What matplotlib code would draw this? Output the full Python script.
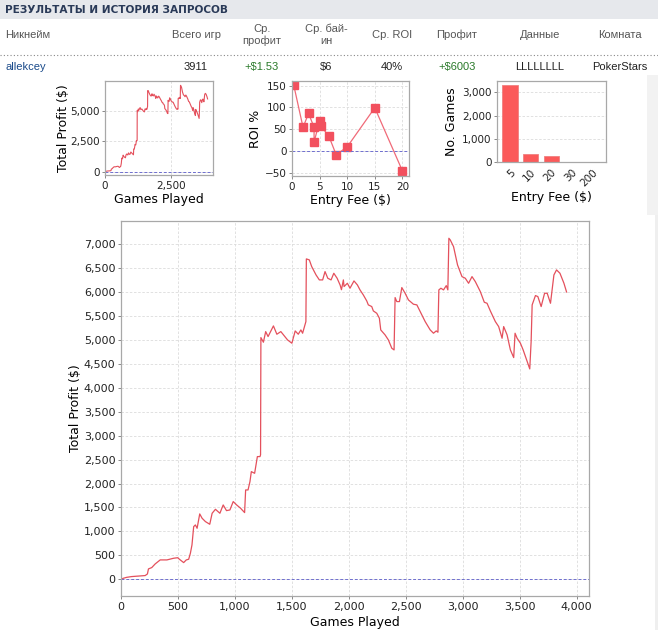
import numpy as np
import matplotlib.pyplot as plt
from matplotlib.patches import Rectangle
from matplotlib.lines import Line2D
from matplotlib.ticker import FuncFormatter

# --- data ---
games_played = [0, 20, 50, 94, 150, 212, 232, 241, 270, 300, 344, 403, 462, 497, 520, 550, 573, 594,
                609, 623, 638, 653, 668, 691, 712, 741, 779, 800, 829, 868, 897, 926, 956, 985, 1015,
                1050, 1085, 1094, 1115, 1132, 1144, 1173, 1197, 1220, 1225, 1228, 1250, 1270, 1291,
                1338, 1368, 1403, 1438, 1462, 1500, 1529, 1556, 1579, 1594, 1623, 1627, 1653, 1674,
                1712, 1741, 1770, 1791, 1815, 1844, 1868, 1897, 1923, 1935, 1952, 1958, 1987, 2010,
                2045, 2075, 2098, 2127, 2157, 2171, 2201, 2215, 2245, 2268, 2280, 2318, 2347, 2377,
                2397, 2406, 2421, 2444, 2465, 2494, 2523, 2567, 2597, 2626, 2670, 2714, 2743, 2767,
                2782, 2790, 2808, 2831, 2855, 2869, 2878, 2890, 2919, 2954, 2993, 3022, 3051, 3081,
                3110, 3154, 3189, 3213, 3242, 3286, 3315, 3345, 3359, 3389, 3418, 3447, 3459, 3477,
                3506, 3530, 3550, 3588, 3600, 3609, 3638, 3659, 3688, 3718, 3741, 3770, 3800, 3823,
                3853, 3888, 3911]
total_profit = [0, 20, 40, 56, 66, 77, 111, 216, 244, 320, 404, 404, 439, 450, 404, 348, 404, 418,
                543, 717, 1100, 1135, 1065, 1365, 1274, 1205, 1149, 1379, 1462, 1379, 1553, 1434, 1448,
                1623, 1553, 1483, 1393, 1866, 1866, 2040, 2249, 2214, 2563, 2563, 2600, 5050, 4953,
                5175, 5071, 5294, 5120, 5175, 5071, 5001, 4932, 5189, 5120, 5210, 5141, 5384, 6694,
                6673, 6533, 6359, 6255, 6255, 6429, 6290, 6255, 6394, 6290, 6150, 6050, 6255, 6116,
                6185, 6081, 6234, 6150, 6046, 5941, 5816, 5733, 5698, 5607, 5558, 5454, 5210, 5106,
                5001, 4827, 4792, 5886, 5802, 5802, 6095, 5976, 5837, 5747, 5733, 5593, 5384, 5210,
                5141, 5189, 5162, 6046, 6081, 6046, 6136, 6046, 7125, 7091, 6951, 6568, 6324, 6290,
                6185, 6324, 6220, 6011, 5788, 5767, 5607, 5384, 5280, 5036, 5280, 5106, 4792, 4632,
                5141, 5036, 4932, 4792, 4653, 4395, 4967, 5733, 5928, 5907, 5698, 5976, 5976, 5767,
                6359, 6464, 6394, 6185, 6003]

roi_fee = [0.3, 2, 3, 4, 4, 5, 5.2, 6.7, 8, 10, 15, 20]
roi_pct = [152, 54, 86, 54, 20, 69, 58, 33, -9, 9, 99, -46]

fee_labels = ["5", "10", "20", "30", "200"]
fee_games = [3330, 330, 245, 4, 2]

header_cols = ["Никнейм", "Всего игр", "Ср.\nпрофит", "Ср. бай-\nин", "Ср. ROI", "Профит", "Данные", "Комната"]
row_values = ["allekcey", "3911", "+$1.53", "$6", "40%", "+$6003", "LLLLLLLL", "PokerStars"]

W, H = 658, 630
LINE = "#e4505c"
GRID = "#dcdcdc"
SPINE = "#a8a8a8"
ZERO = "#6f6fcf"


def px_axes(fig, left, top, right, bottom):
    return fig.add_axes([left / W, 1 - bottom / H, (right - left) / W, (bottom - top) / H])


def style_axes(ax, tick_size):
    for s in ax.spines.values():
        s.set_color(SPINE)
        s.set_linewidth(0.9)
    ax.tick_params(length=2, width=0.7, color="#888888", labelsize=tick_size,
                   labelcolor="#222222", pad=2)
    ax.grid(True, color=GRID, linestyle=(0, (3, 2)), linewidth=0.6)
    ax.set_axisbelow(True)


comma = FuncFormatter(lambda v, p: f"{int(v):,}")

fig = plt.figure(figsize=(W / 100, H / 100), dpi=100)
fig.patch.set_facecolor("white")

# page header / table
fig.patches.append(Rectangle((0, 1 - 19 / H), 1, 19 / H, transform=fig.transFigure,
                             facecolor="#e6e8ec", edgecolor="none"))
fig.patches.append(Rectangle((647 / W, 1 - 215 / H), 11 / W, 140 / H, transform=fig.transFigure,
                             facecolor="#f2f2f2", edgecolor="none"))
fig.patches.append(Rectangle((655 / W, 0), 3 / W, 1 - 215 / H, transform=fig.transFigure,
                             facecolor="#efefef", edgecolor="none"))
fig.text(5 / W, 1 - 10 / H, "РЕЗУЛЬТАТЫ И ИСТОРИЯ ЗАПРОСОВ", fontsize=7.6, fontweight="bold",
         color="#2a3a58", va="center", ha="left", family="DejaVu Sans")

col_x = [5, 196, 262, 326, 392, 457, 540, 620]
col_ha = ["left", "center", "center", "center", "center", "center", "center", "center"]
for label, x, ha in zip(header_cols, col_x, col_ha):
    fig.text(x / W, 1 - 35 / H, label, fontsize=8, color="#555555", ha=ha, va="center",
             family="Liberation Sans", linespacing=1.2)
fig.lines.append(Line2D([0, 1], [1 - 55 / H, 1 - 55 / H], transform=fig.transFigure,
                        color="#888888", linestyle=(0, (1, 2)), linewidth=0.8))
row_colors = ["#1a4a8a", "#222222", "#2a7a2a", "#222222", "#222222", "#2a7a2a", "#222222", "#222222"]
for val, x, ha, c in zip(row_values, col_x, col_ha, row_colors):
    fig.text(x / W, 1 - 67 / H, val, fontsize=8, color=c, ha=ha, va="center", family="Liberation Sans")

# small chart 1: profit curve
ax1 = px_axes(fig, 105, 81, 213, 175)
ax1.plot(games_played, total_profit, color=LINE, lw=0.8)
ax1.axhline(0, color=ZERO, lw=0.7, linestyle=(0, (3, 2)))
ax1.set_xlim(0, 4117)
ax1.set_ylim(-272, 7483)
ax1.set_xticks([0, 2500])
ax1.set_yticks([0, 2500, 5000])
ax1.xaxis.set_major_formatter(comma)
ax1.yaxis.set_major_formatter(comma)
style_axes(ax1, 7.5)
ax1.set_xlabel("Games Played", fontsize=9, labelpad=2)
ax1.set_ylabel("Total Profit ($)", fontsize=9, labelpad=0)

# small chart 2: ROI by entry fee
ax2 = px_axes(fig, 292, 81, 409, 176)
ax2.plot(roi_fee, roi_pct, color="#f06a78", lw=0.9, marker="s", markersize=6,
         markerfacecolor="#f2505e", markeredgecolor="#f2505e")
ax2.axhline(0, color=ZERO, lw=0.7, linestyle=(0, (3, 2)))
ax2.set_xlim(0, 21.2)
ax2.set_ylim(-58, 160.6)
ax2.set_xticks([0, 5, 10, 15, 20])
ax2.set_yticks([-50, 0, 50, 100, 150])
style_axes(ax2, 7.5)
ax2.set_xlabel("Entry Fee ($)", fontsize=9, labelpad=2)
ax2.set_ylabel("ROI %", fontsize=9, labelpad=2)

# small chart 3: games by entry fee
ax3 = px_axes(fig, 497, 81, 606, 162)
pos = np.arange(len(fee_labels))
ax3.bar(pos, fee_games, width=0.73, color="#fb5a5a", edgecolor="#f08080", linewidth=0.6)
ax3.set_xlim(-0.63, 4.65)
ax3.set_ylim(0, 3485)
ax3.set_xticks(pos)
ax3.set_xticklabels(fee_labels, rotation=45, ha="right", rotation_mode="anchor")
ax3.set_yticks([0, 1000, 2000, 3000])
ax3.yaxis.set_major_formatter(comma)
style_axes(ax3, 7.5)
ax3.grid(False, axis="x")
ax3.tick_params(axis="x", length=0, pad=4)
ax3.set_xlabel("Entry Fee ($)", fontsize=9, labelpad=2)
ax3.set_ylabel("No. Games", fontsize=9, labelpad=3)

# main chart
ax = px_axes(fig, 121, 221, 589, 596)
ax.plot(games_played, total_profit, color=LINE, lw=0.9)
ax.axhline(0, color=ZERO, lw=0.7, linestyle=(0, (3, 2)))
ax.set_xlim(0, 4108)
ax.set_ylim(-350, 7486)
ax.set_xticks(np.arange(0, 4001, 500))
ax.set_yticks(np.arange(0, 7001, 500))
ax.xaxis.set_major_formatter(comma)
ax.yaxis.set_major_formatter(comma)
style_axes(ax, 8)
ax.set_xlabel("Games Played", fontsize=9, labelpad=3)
ax.set_ylabel("Total Profit ($)", fontsize=9, labelpad=1)

fig.savefig("out.png", dpi=100)
